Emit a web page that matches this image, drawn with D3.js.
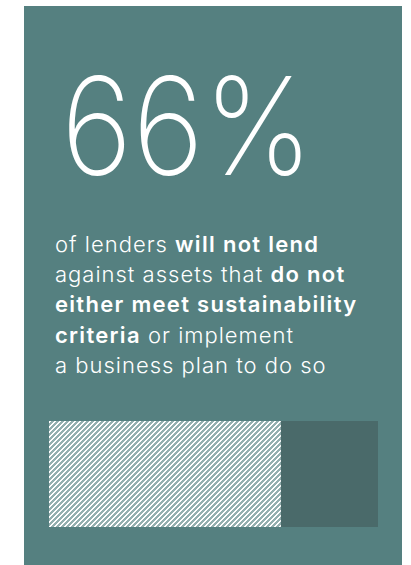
<!DOCTYPE html>
<html><head><meta charset="utf-8">
<script src="https://cdn.jsdelivr.net/npm/d3@7"></script>
<style>html,body{margin:0;padding:0;background:#fff;}svg{display:block;}</style>
</head><body>
<script>
const headline = "66%";
const lines = [
  [["of lenders ", false], ["will not lend", true]],
  [["against assets that ", false], ["do not", true]],
  [["either meet sustainability", true]],
  [["criteria", true], [" or implement", false]],
  [["a business plan to do so", false]]
];
const segments = ["will not lend", "other"];
const segmentValues = [70.5, 29.5];

const W = 411, H = 565;
const svg = d3.select("body").append("svg").attr("width", W).attr("height", H);
const defs = svg.append("defs");
const P = 5;
const pat = defs.append("pattern").attr("id", "hatch").attr("patternUnits", "userSpaceOnUse")
  .attr("x", 49).attr("y", 421).attr("width", P).attr("height", P);
pat.append("rect").attr("width", P).attr("height", P).attr("fill", "#93afaf");
const px = [];
for (let i = 0; i < P; i++) for (let j = 0; j < P; j++) if ((i + j) % P < 2) px.push([i, j]);
pat.selectAll("rect.p").data(px).join("rect").attr("class", "p")
  .attr("x", d => d[0]).attr("y", d => d[1]).attr("width", 1).attr("height", 1)
  .attr("fill", "#ffffff").attr("shape-rendering", "crispEdges");

svg.append("rect").attr("x", 24).attr("y", 6).attr("width", 378).attr("height", 559).attr("fill", "#558080");

svg.append("text").attr("x", 61).attr("y", 175)
  .attr("font-family", "Inter, Lato, 'Open Sans', sans-serif").attr("font-weight", 150)
  .attr("font-size", 136).attr("fill", "#fff")
  .attr("textLength", 252).attr("lengthAdjust", "spacingAndGlyphs").text(headline);

const t = svg.append("text").attr("font-family", "Inter, Lato, 'Open Sans', sans-serif")
  .attr("font-size", 22).attr("fill", "#fff");
lines.forEach((ln, i) => {
  const tl = t.append("tspan").attr("x", 55).attr("y", 252 + i * 30.2);
  ln.forEach(([s, b], j) => {
    const sp = j === 0 ? tl : t.append("tspan");
    sp.attr("font-weight", b ? 600 : 300).attr("letter-spacing", b ? 1.3 : 1.0).text(s);
  });
});

const x = d3.scaleLinear().domain([0, d3.sum(segmentValues)]).range([49, 378]);
const y = d3.scaleBand().domain(["bar"]).range([421, 527]);
let acc = 0;
const stacked = segmentValues.map((v, i) => { const o = {k: segments[i], x0: acc, x1: acc + v}; acc += v; return o; });
svg.selectAll("rect.seg").data(stacked).join("rect").attr("class", "seg")
  .attr("x", d => x(d.x0)).attr("width", d => x(d.x1) - x(d.x0))
  .attr("y", y("bar")).attr("height", y.bandwidth())
  .attr("fill", (d, i) => i === 0 ? "url(#hatch)" : "#4a6a6a");
</script>
</body></html>
